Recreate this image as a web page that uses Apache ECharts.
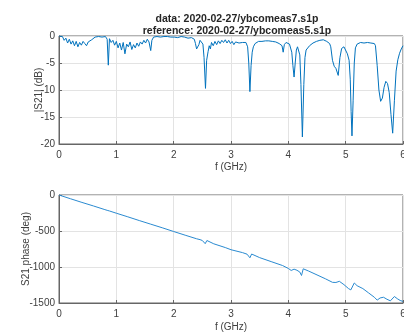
<!DOCTYPE html>
<html><head><meta charset="utf-8">
<script src="https://cdn.jsdelivr.net/npm/echarts@6/dist/echarts.min.js"></script>
<style>html,body{margin:0;padding:0;background:#fff}#c{width:404px;height:333px}</style>
</head><body><div id="c"></div>
<script>
const titleLines = ["data: 2020-02-27/ybcomeas7.s1p", "reference: 2020-02-27/ybcomeas5.s1p"];
const xTicks = [0, 1, 2, 3, 4, 5, 6];
const magTicks = [0, -5, -10, -15, -20];
const phaseTicks = [0, -500, -1000, -1500];

const magFreq = [0,0.03,0.06,0.09,0.12,0.15,0.18,0.21,0.24,0.27,0.30,0.33,0.36,0.39,0.42,0.45,0.48,0.51,0.54,0.57,0.60,0.63,0.66,0.69,0.72,0.75,0.78,0.81,0.84,0.86,0.88,0.91,0.94,0.97,1.00,1.03,1.06,1.09,1.12,1.15,1.18,1.21,1.24,1.27,1.30,1.33,1.36,1.39,1.42,1.45,1.48,1.51,1.54,1.57,1.60,1.62,1.65,1.68,1.71,1.74,1.77,1.80,1.83,1.86,1.89,1.92,1.95,1.98,2.01,2.04,2.07,2.10,2.13,2.16,2.19,2.22,2.25,2.28,2.31,2.34,2.36,2.38,2.40,2.42,2.44,2.46,2.49,2.51,2.53,2.555,2.575,2.60,2.62,2.64,2.66,2.69,2.72,2.75,2.78,2.81,2.84,2.87,2.90,2.93,2.96,2.99,3.02,3.05,3.08,3.11,3.14,3.17,3.20,3.23,3.26,3.29,3.31,3.33,3.35,3.37,3.39,3.42,3.45,3.48,3.51,3.54,3.57,3.60,3.63,3.66,3.69,3.72,3.75,3.78,3.81,3.84,3.87,3.89,3.91,3.93,3.96,3.99,4.02,4.04,4.06,4.08,4.10,4.12,4.14,4.16,4.18,4.20,4.22,4.245,4.27,4.29,4.31,4.34,4.37,4.40,4.43,4.46,4.49,4.52,4.55,4.58,4.61,4.64,4.67,4.70,4.72,4.74,4.77,4.80,4.83,4.87,4.90,4.93,4.97,5.00,5.03,5.06,5.08,5.095,5.11,5.13,5.15,5.17,5.20,5.23,5.26,5.29,5.32,5.35,5.38,5.41,5.44,5.47,5.50,5.52,5.55,5.58,5.61,5.64,5.67,5.70,5.73,5.76,5.79,5.82,5.85,5.88,5.91,5.94,5.97,6.00];
const magDb = [0,-0.2,-0.1,-0.8,-0.4,-1.3,-0.6,-1.5,-0.9,-1.8,-1.0,-2.0,-1.2,-1.7,-1.0,-1.4,-1.8,-1.1,-1.3,-0.7,-0.9,-0.2,-0.3,-0.1,-0.4,-0.2,-0.3,-0.1,-0.6,-5.4,-0.5,-1.2,-0.8,-1.7,-1.0,-2.2,-1.3,-2.6,-1.2,-3.3,-1.5,-2.0,-1.1,-2.5,-1.6,-2.2,-1.3,-1.9,-1.1,-1.5,-0.8,-1.3,-0.6,-1.1,-2.7,-0.8,-0.2,-0.5,-0.1,-0.4,-0.2,-0.3,-0.1,-0.2,-0.1,-0.3,-0.2,-0.1,-0.2,-0.1,-0.3,-0.2,-0.1,-0.3,-0.2,-0.2,-0.4,-0.2,-0.3,-0.2,-0.6,-1.4,-2.4,-2.7,-1.6,-0.8,-0.6,-1.5,-4.0,-9.7,-4.5,-2.9,-1.8,-2.4,-1.2,-1.8,-1.0,-1.6,-0.9,-1.4,-0.8,-1.2,-0.7,-1.3,-0.8,-1.4,-1.0,-1.6,-1.1,-1.0,-1.3,-1.1,-1.2,-1.0,-1.2,-2.0,-5.0,-10.3,-5.5,-3.0,-2.0,-1.4,-1.1,-1.0,-0.8,-1.0,-0.8,-0.9,-0.7,-0.9,-0.6,-1.0,-0.8,-1.1,-0.9,-1.4,-1.3,-1.8,-3.0,-1.6,-1.2,-1.3,-1.5,-1.8,-3.0,-5.5,-7.6,-5.0,-2.6,-2.0,-2.1,-3.5,-9.0,-18.7,-9.0,-4.0,-2.6,-2.3,-1.8,-1.5,-1.3,-1.1,-1.0,-0.9,-0.8,-1.0,-0.7,-0.8,-1.0,-1.1,-1.4,-2.0,-4.5,-5.6,-6.0,-7.3,-4.0,-2.3,-2.0,-2.2,-3.3,-4.5,-8.0,-14.0,-18.5,-12.0,-5.0,-2.2,-1.5,-1.3,-1.2,-1.5,-1.3,-1.4,-1.2,-1.5,-1.3,-1.2,-1.4,-1.8,-5.5,-10.0,-12.1,-11.5,-9.5,-8.4,-8.8,-10.5,-14.5,-18.0,-12.0,-6.5,-4.4,-3.2,-2.4,-1.8];

const phFreq = [0,0.2,0.4,0.6,0.8,0.84,0.86,0.88,1.0,1.2,1.4,1.6,1.8,2.0,2.2,2.4,2.46,2.5,2.55,2.58,2.7,2.9,3.0,3.2,3.28,3.31,3.33,3.36,3.5,3.7,3.9,4.0,4.05,4.1,4.15,4.2,4.23,4.26,4.35,4.5,4.65,4.77,4.83,4.89,4.97,5.05,5.09,5.15,5.2,5.3,5.4,5.5,5.55,5.6,5.66,5.72,5.78,5.81,5.85,5.9,5.95,6.0];
const phDeg = [0,-52,-103,-152,-203,-213,-205,-222,-253,-303,-355,-405,-455,-507,-558,-608,-620,-632,-676,-632,-678,-730,-760,-800,-822,-845,-872,-820,-870,-925,-980,-1020,-1048,-1030,-1045,-1070,-1118,-1025,-1055,-1110,-1165,-1213,-1215,-1199,-1245,-1300,-1318,-1222,-1260,-1300,-1360,-1420,-1460,-1430,-1420,-1448,-1470,-1495,-1410,-1440,-1465,-1478];

const txt = '#404040';
const font = 'Liberation Sans, Arial, sans-serif';
function xAx(idx, gap){
  return {type:'value', gridIndex:idx, min:xTicks[0], max:xTicks[xTicks.length-1], interval:1,
    name:'f (GHz)', nameLocation:'middle', nameGap:gap, nameMoveOverlap:false,
    nameTextStyle:{color:txt, fontSize:10, fontFamily:font},
    axisLine:{show:true, onZero:false, lineStyle:{color:'#666', width:1}},
    axisTick:{show:true, inside:true, length:3, lineStyle:{color:'#666'}},
    axisLabel:{color:txt, fontSize:10, fontFamily:font, margin:6, showMaxLabel:true, hideOverlap:false,
      formatter:v=>String(v)},
    splitLine:{show:true, lineStyle:{color:'#e3e3e3', width:1}}};
}
function yAx(idx, ticks, name, gap){
  return {type:'value', gridIndex:idx, min:ticks[ticks.length-1], max:ticks[0],
    interval: ticks[0]-ticks[1],
    name:name, nameLocation:'middle', nameGap:gap, nameRotate:90, nameMoveOverlap:false,
    nameTextStyle:{color:txt, fontSize:10, fontFamily:font},
    axisLine:{show:true, lineStyle:{color:'#666', width:1}},
    axisTick:{show:true, inside:true, length:3, lineStyle:{color:'#666'}},
    axisLabel:{color:txt, fontSize:10, fontFamily:font, margin:4, formatter:v=>String(v)},
    splitLine:{show:true, lineStyle:{color:'#e3e3e3', width:1}}};
}
const chart = echarts.init(document.getElementById('c'), null, {renderer:'canvas'});
chart.setOption({
  animation:false,
  backgroundColor:'#fff',
  title:{text:titleLines.join('\n'), left:232, top:8, textAlign:'center',
    textStyle:{fontSize:10.5, fontWeight:'bold', color:'#262626', fontFamily:font, lineHeight:12}},
  grid:[
    {left:59, right:1, top:36, height:108, show:true, borderColor:'#666', borderWidth:1, backgroundColor:'transparent', outerBoundsMode:'none', containLabel:false},
    {left:59, right:1, top:195, height:108, show:true, borderColor:'#666', borderWidth:1, backgroundColor:'transparent', outerBoundsMode:'none', containLabel:false}
  ],
  xAxis:[xAx(0, 18), xAx(1, 19)],
  yAxis:[yAx(0, magTicks, '|S21| (dB)', 15), yAx(1, phaseTicks, 'S21 phase (deg)', 28)],
  series:[
    {type:'line', xAxisIndex:0, yAxisIndex:0, showSymbol:false, symbol:'none',
      lineStyle:{color:'#0072BD', width:1}, data: magFreq.map((f,i)=>[f, magDb[i]])},
    {type:'line', xAxisIndex:1, yAxisIndex:1, showSymbol:false, symbol:'none',
      lineStyle:{color:'#2a8ad0', width:1}, data: phFreq.map((f,i)=>[f, phDeg[i]])}
  ]
});
</script></body></html>
